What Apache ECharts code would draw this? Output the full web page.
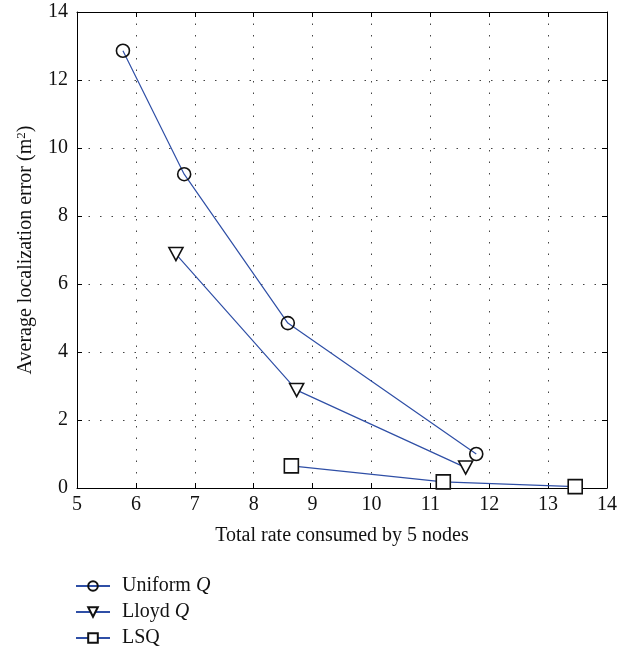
<!DOCTYPE html>
<html lang="en" style="height: 100%">
<head>
  <meta charset="utf-8">
  <title>localization error vs rate</title>
  <script src="https://cdn.jsdelivr.net/npm/echarts@6/dist/echarts.min.js"></script>
</head>
<body style="height: 100%; margin: 0; background: #fff">
  <div id="container" style="width: 635px; height: 650px"></div>
  <script type="text/javascript">
    // values
    var uniformX = [5.78, 6.82, 8.58, 11.78];
    var uniformY = [12.86, 9.23, 4.85, 1.0];
    var lloydX = [6.68, 8.73, 11.6];
    var lloydY = [6.88, 2.88, 0.6];
    var lsqX = [8.64, 11.22, 13.46];
    var lsqY = [0.65, 0.18, 0.04];
    var seriesNames = ['Uniform Q', 'Lloyd Q', 'LSQ'];

    var FONT = 'Liberation Serif';
    var LINE = '#2f4fa6';

    function pairs(xs, ys) {
      return xs.map(function (x, i) { return [x, ys[i]]; });
    }

    var dom = document.getElementById('container');
    var myChart = echarts.init(dom, null, { renderer: 'canvas' });

    var gridLine = { show: true, lineStyle: { color: '#444', type: [1.5, 10], width: 1 } };
    var frame = { show: true, onZero: false, lineStyle: { color: '#000', width: 1 } };
    var ticks = { show: true, inside: true, length: 5, lineStyle: { color: '#000' } };

    var option = {
      backgroundColor: '#fff',
      animation: false,
      textStyle: { fontFamily: FONT },
      grid: { left: 77, right: 28, top: 12, bottom: 162, containLabel: false },
      legend: {
        orient: 'vertical',
        left: 75,
        top: 576,
        padding: 0,
        itemWidth: 34,
        itemHeight: 12,
        itemGap: 6,
        data: seriesNames,
        formatter: function (name) {
          if (name === 'LSQ') return 'LSQ';
          return name.replace(' Q', ' {i|Q}');
        },
        textStyle: {
          fontFamily: FONT, fontSize: 20, color: '#111', padding: [0, 0, 0, 7],
          rich: { i: { fontFamily: FONT, fontSize: 20, fontStyle: 'italic', color: '#111' } }
        }
      },
      xAxis: [
        {
          type: 'value', min: 5, max: 14, interval: 1,
          name: 'Total rate consumed by 5 nodes',
          nameLocation: 'middle', nameGap: 38,
          nameTextStyle: { fontFamily: FONT, fontSize: 20, color: '#111' },
          axisLine: frame,
          axisTick: ticks,
          axisLabel: { fontFamily: FONT, fontSize: 20, color: '#111', margin: 7 },
          splitLine: gridLine
        },
        {
          type: 'value', position: 'top', min: 5, max: 14, interval: 1,
          axisLine: frame,
          axisTick: ticks,
          axisLabel: { show: false },
          splitLine: { show: false }
        }
      ],
      yAxis: [
        {
          type: 'value', min: 0, max: 14, interval: 2,
          name: 'Average localization error (m{sup|2})',
          nameLocation: 'middle', nameGap: 40, nameRotate: 90,
          nameTextStyle: {
            fontFamily: FONT, fontSize: 20, color: '#111',
            rich: { sup: { fontFamily: FONT, fontSize: 13, color: '#111', verticalAlign: 'top', padding: [0, 0, 9, 0] } }
          },
          axisLine: frame,
          axisTick: ticks,
          axisLabel: { fontFamily: FONT, fontSize: 20, color: '#111', margin: 9 },
          splitLine: gridLine
        },
        {
          type: 'value', position: 'right', min: 0, max: 14, interval: 2,
          axisLine: frame,
          axisTick: ticks,
          axisLabel: { show: false },
          splitLine: { show: false }
        }
      ],
      series: [
        {
          name: seriesNames[0], type: 'line', data: pairs(uniformX, uniformY),
          symbol: 'circle', symbolSize: 13,
          lineStyle: { color: LINE, width: 1.2 },
          itemStyle: { color: 'rgba(255,255,255,0)', borderColor: '#111', borderWidth: 1.6 }
        },
        {
          name: seriesNames[1], type: 'line', data: pairs(lloydX, lloydY),
          symbol: 'path://M0,0 L12,0 L6,11 Z', symbolSize: [14, 13],
          lineStyle: { color: LINE, width: 1.2 },
          itemStyle: { color: '#fff', borderColor: '#111', borderWidth: 1.6 }
        },
        {
          name: seriesNames[2], type: 'line', data: pairs(lsqX, lsqY),
          symbol: 'rect', symbolSize: 14,
          lineStyle: { color: LINE, width: 1.2 },
          itemStyle: { color: '#fff', borderColor: '#111', borderWidth: 1.6 }
        }
      ]
    };

    myChart.setOption(option);
    window.addEventListener('resize', myChart.resize);
  </script>
</body>
</html>
